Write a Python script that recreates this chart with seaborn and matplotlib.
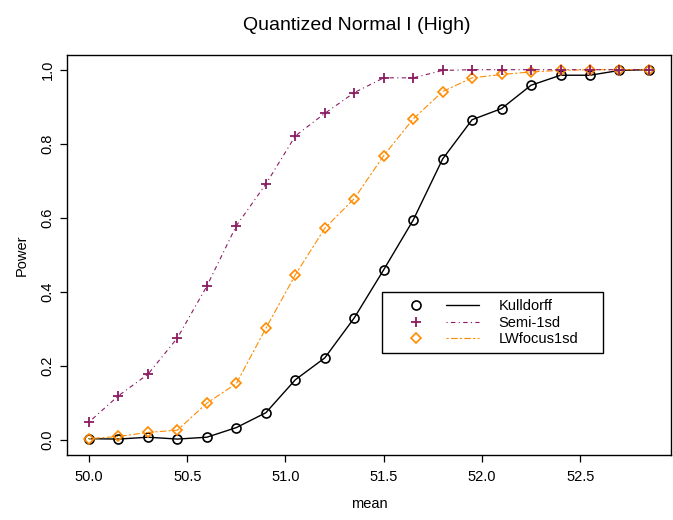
import numpy as np
import pandas as pd
import seaborn as sns
import matplotlib.pyplot as plt
from matplotlib.lines import Line2D
from matplotlib.legend_handler import HandlerBase

sns.set_theme(style="ticks")
plt.rcParams["font.family"] = ["Liberation Sans", "DejaVu Sans"]
plt.rcParams["text.color"] = "black"
plt.rcParams["axes.labelcolor"] = "black"

means = [50.0, 50.15, 50.3, 50.45, 50.6, 50.75, 50.9, 51.05, 51.2, 51.35,
         51.5, 51.65, 51.8, 51.95, 52.1, 52.25, 52.4, 52.55, 52.7, 52.85]
kulldorff = [0.004, 0.003, 0.008, 0.003, 0.008, 0.034, 0.074, 0.163, 0.222, 0.330,
             0.460, 0.594, 0.759, 0.865, 0.895, 0.958, 0.985, 0.985, 0.998, 1.0]
semi_1sd = [0.049, 0.120, 0.178, 0.276, 0.416, 0.579, 0.691, 0.821, 0.882, 0.938,
            0.978, 0.978, 0.998, 1.0, 1.0, 1.0, 1.0, 1.0, 1.0, 1.0]
lwfocus_1sd = [0.004, 0.010, 0.021, 0.027, 0.100, 0.153, 0.302, 0.446, 0.572, 0.652,
               0.768, 0.867, 0.941, 0.978, 0.987, 0.994, 0.998, 1.0, 1.0, 1.0]

series_names = ["Kulldorff", "Semi-1sd", "LWfocus1sd"]

df = pd.DataFrame({"mean": means, "Kulldorff": kulldorff,
                   "Semi-1sd": semi_1sd, "LWfocus1sd": lwfocus_1sd})

styles = {
    "Kulldorff": dict(color="black", marker="o", ms=6.5, ls="-", lw=1.0, mew=1.2),
    "Semi-1sd": dict(color="#8B1C62", marker="+", ms=7.5, ls=(0, (1, 3, 4, 3)), lw=0.8, mew=1.3),
    "LWfocus1sd": dict(color="#FF8C00", marker="D", ms=5.2, ls=(0, (2, 2, 6, 2)), lw=0.8, mew=1.2),
}

fig = plt.figure(figsize=(6.73, 5.2), dpi=100)
ax = fig.add_axes([0.099, 0.125, 0.8985, 0.7695])

lines = {}
for name in ["Kulldorff", "LWfocus1sd", "Semi-1sd"]:
    st = styles[name]
    sns.lineplot(data=df, x="mean", y=name, ax=ax, color=st["color"],
                 marker=st["marker"], markersize=st["ms"], linestyle=st["ls"],
                 linewidth=st["lw"], markeredgewidth=st["mew"],
                 markeredgecolor=st["color"], markerfacecolor="none", legend=False)
    lines[name] = ax.lines[-1]

ax.set_xlim(50.0 - 0.114, 52.85 + 0.114)
ax.set_ylim(-0.04, 1.04)
ax.set_xticks([50.0, 50.5, 51.0, 51.5, 52.0, 52.5])
ax.set_xticklabels(["50.0", "50.5", "51.0", "51.5", "52.0", "52.5"])
ax.set_yticks([0.0, 0.2, 0.4, 0.6, 0.8, 1.0])
ax.set_yticklabels(["0.0", "0.2", "0.4", "0.6", "0.8", "1.0"], rotation=90, va="center")
ax.tick_params(axis="both", direction="out", length=5, width=0.9, colors="black", labelsize=10.5)
ax.tick_params(axis="x", pad=5.5)
ax.tick_params(axis="y", pad=3.5)
for sp in ax.spines.values():
    sp.set_visible(True)
    sp.set_color("black")
    sp.set_linewidth(1.0)
ax.set_xlabel("mean", fontsize=10.5, labelpad=10)
ax.set_ylabel("Power", fontsize=10.5, labelpad=9)
ax.set_title("Quantized Normal I (High)", fontsize=14, pad=18, x=0.48)


class MarkerThenLine(HandlerBase):
    def create_artists(self, legend, orig, xdescent, ydescent, width, height, fontsize, trans):
        mk, ln = orig
        y = height / 2 - ydescent
        m = Line2D([0.298 * width - xdescent], [y])
        m.update_from(mk)
        m.set_linestyle("none")
        l = Line2D([0.629 * width - xdescent, width - xdescent], [y, y])
        l.update_from(ln)
        l.set_marker("none")
        for a in (m, l):
            a.set_transform(trans)
        return [m, l]


handles = []
for name in series_names:
    handles.append((lines[name], lines[name]))
leg = ax.legend(handles, series_names, handler_map={tuple: MarkerThenLine()},
                loc="upper left", bbox_to_anchor=(0.521, 0.248, 0.366, 0.159),
                mode="expand", borderaxespad=0, fontsize=10.5, handlelength=6.2,
                handletextpad=1.3, labelspacing=0.15, borderpad=0.5,
                fancybox=False, framealpha=1, edgecolor="black")
leg.get_frame().set_linewidth(1.0)

fig.savefig("out.png", dpi=100)
